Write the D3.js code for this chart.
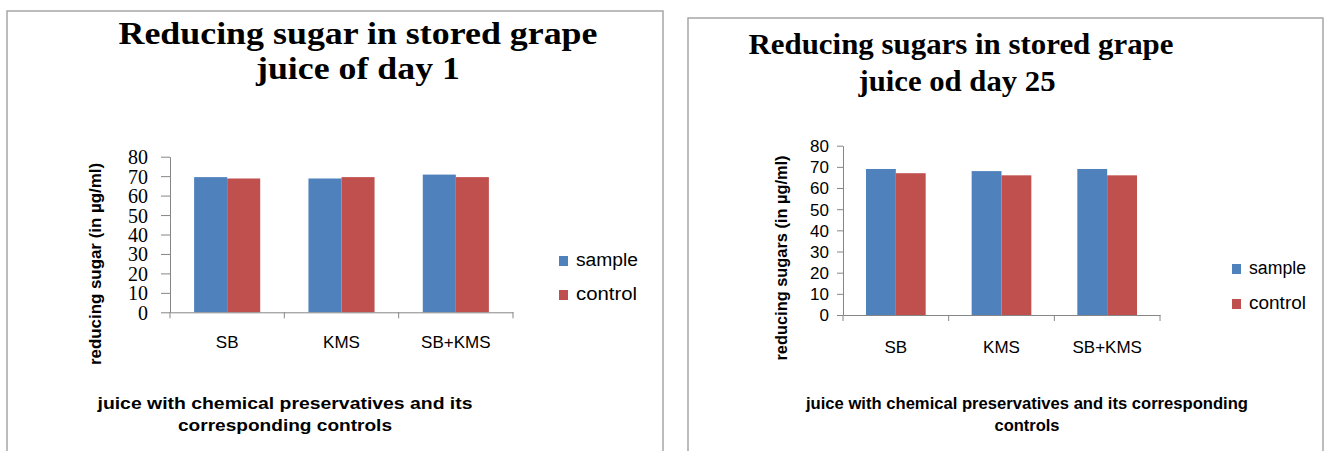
<!DOCTYPE html>
<html><head><meta charset="utf-8">
<script src="https://cdn.jsdelivr.net/npm/d3@7"></script>
<style>body{margin:0;background:#fff}svg{display:block}</style>
</head><body>
<svg id="c" width="1325" height="451"></svg>
<script>
const categories = ["SB", "KMS", "SB+KMS"];
const seriesNames = ["sample", "control"];
const day1Sample = [69.5, 68.8, 70.8];
const day1Control = [68.8, 69.5, 69.5];
const day25Sample = [69, 68, 69];
const day25Control = [67, 66, 66];
const yTicks = [0, 10, 20, 30, 40, 50, 60, 70, 80];
const colors = ["#4F81BD", "#C0504D"];

const svg = d3.select("#c");

function drawChart(cfg, sampleVals, controlVals) {
  const g = svg.append("g");
  g.append("path")
    .attr("d", `M${cfg.bx0},${cfg.by1 + 10}V${cfg.by0}H${cfg.bx1}V${cfg.by1 + 10}`)
    .attr("fill", "none").attr("stroke", "#a6a6a6").attr("stroke-width", 1.5);

  cfg.title.forEach(t => {
    g.append("text").attr("x", t.x).attr("y", t.y)
      .attr("text-anchor", "middle")
      .attr("font-family", "Liberation Serif, Times New Roman, serif")
      .attr("font-weight", "bold").attr("font-size", cfg.titleSize)
      .attr("textLength", t.w).attr("lengthAdjust", "spacingAndGlyphs")
      .text(t.text);
  });

  const x0 = d3.scaleBand().domain(categories).range([cfg.px0, cfg.px1]).padding(0);
  const x1 = d3.scaleBand().domain(seriesNames).range([0, x0.bandwidth()]).paddingInner(0).paddingOuter(cfg.outerPad);
  const y = d3.scaleLinear().domain([0, 80]).range([cfg.py0, cfg.py1]);

  const rows = categories.map((c, i) => ({ cat: c, vals: [sampleVals[i], controlVals[i]] }));
  const grp = g.selectAll(".grp").data(rows).enter().append("g")
    .attr("transform", d => `translate(${x0(d.cat)},0)`);
  grp.selectAll("rect").data(d => d.vals.map((v, j) => ({ s: seriesNames[j], v, j })))
    .enter().append("rect")
    .attr("x", d => x1(d.s)).attr("width", x1.bandwidth())
    .attr("y", d => y(d.v)).attr("height", d => y(0) - y(d.v))
    .attr("fill", d => colors[d.j]);

  const ya = g.append("g").attr("transform", `translate(${cfg.px0},0)`)
    .call(d3.axisLeft(y).tickValues(yTicks).tickSize(cfg.tickLen).tickSizeOuter(0).tickPadding(cfg.tickPad));
  ya.select(".domain").attr("stroke", "#868686");
  ya.selectAll(".tick line").attr("stroke", "#868686");
  ya.selectAll("text").attr("font-family", cfg.numFont).attr("font-size", cfg.numSize)
    .attr("fill", "#000").attr("dy", "0.35em");

  const xa = g.append("g").attr("transform", `translate(0,${cfg.py0})`)
    .call(d3.axisBottom(x0).tickSize(0).tickPadding(cfg.xLabPad));
  xa.select(".domain").attr("stroke", "#868686");
  xa.selectAll("text").attr("font-family", "Liberation Sans Narrow, Liberation Sans, Arial, sans-serif")
    .attr("font-size", cfg.catSize).attr("fill", "#000");
  const bounds = categories.map(c => x0(c)).concat([x0.range()[1]]);
  xa.selectAll(".bt").data(bounds).enter().append("line").attr("class", "bt")
    .attr("x1", d => d).attr("x2", d => d).attr("y1", 0).attr("y2", 6)
    .attr("stroke", "#868686");

  g.append("text").attr("transform", `translate(${cfg.ylx},${cfg.yly}) rotate(-90)`)
    .attr("text-anchor", "middle")
    .attr("font-family", "Liberation Sans, Arial, sans-serif")
    .attr("font-weight", "bold").attr("font-size", cfg.ylSize)
    .attr("textLength", cfg.ylW).attr("lengthAdjust", "spacingAndGlyphs")
    .text(cfg.ylText);

  cfg.xt.forEach(t => {
    g.append("text").attr("x", t.x).attr("y", t.y).attr("text-anchor", "middle")
      .attr("font-family", "Liberation Sans, Arial, sans-serif")
      .attr("font-weight", "bold").attr("font-size", cfg.xtSize)
      .attr("textLength", t.w).attr("lengthAdjust", "spacingAndGlyphs")
      .text(t.text);
  });

  seriesNames.forEach((s, j) => {
    const ly = cfg.legY + j * cfg.legGap;
    g.append("rect").attr("x", cfg.legX).attr("y", ly - 10).attr("width", 9).attr("height", 10)
      .attr("fill", colors[j]);
    g.append("text").attr("x", cfg.legX + 17).attr("y", ly)
      .attr("font-family", "Liberation Sans, Arial, sans-serif")
      .attr("font-size", cfg.legSize).attr("fill", "#000")
      .attr("textLength", cfg.legW[j]).attr("lengthAdjust", "spacingAndGlyphs")
      .text(s);
  });
}

drawChart({
  bx0: 7, bx1: 663, by0: 11, by1: 451,
  title: [
    { text: "Reducing sugar in stored grape", x: 358, y: 44, w: 479 },
    { text: "juice of day 1", x: 358, y: 79, w: 204 }
  ],
  titleSize: 31,
  px0: 170, px1: 513, py0: 312.3, py1: 156.7, outerPad: 0.73,
  tickLen: 9, tickPad: 13, numFont: "Liberation Serif, Times New Roman, serif", numSize: 20,
  xLabPad: 24, catSize: 17,
  ylx: 101, yly: 264, ylSize: 17, ylW: 202, ylText: "reducing sugar (in µg/ml)",
  xt: [
    { text: "juice with chemical preservatives and its", x: 285, y: 409, w: 375 },
    { text: "corresponding controls", x: 285, y: 431, w: 214 }
  ],
  xtSize: 17,
  legX: 559, legY: 266, legGap: 34, legSize: 18, legW: [62, 61]
}, day1Sample, day1Control);

drawChart({
  bx0: 688, bx1: 1323, by0: 18, by1: 451,
  title: [
    { text: "Reducing sugars in stored grape", x: 961, y: 54, w: 425 },
    { text: "juice od day 25", x: 957, y: 91, w: 197 }
  ],
  titleSize: 29,
  px0: 843, px1: 1160, py0: 315, py1: 145.7, outerPad: 0.77,
  tickLen: 6, tickPad: 8, numFont: "Liberation Sans, Arial, sans-serif", numSize: 17,
  xLabPad: 26, catSize: 17,
  ylx: 787, yly: 258, ylSize: 17, ylW: 205, ylText: "reducing sugars (in µg/ml)",
  xt: [
    { text: "juice with chemical preservatives and its corresponding", x: 1027, y: 409, w: 442 },
    { text: "controls", x: 1027, y: 431, w: 65 }
  ],
  xtSize: 17,
  legX: 1232, legY: 274, legGap: 35, legSize: 18, legW: [57, 57]
}, day25Sample, day25Control);
</script>
</body></html>
